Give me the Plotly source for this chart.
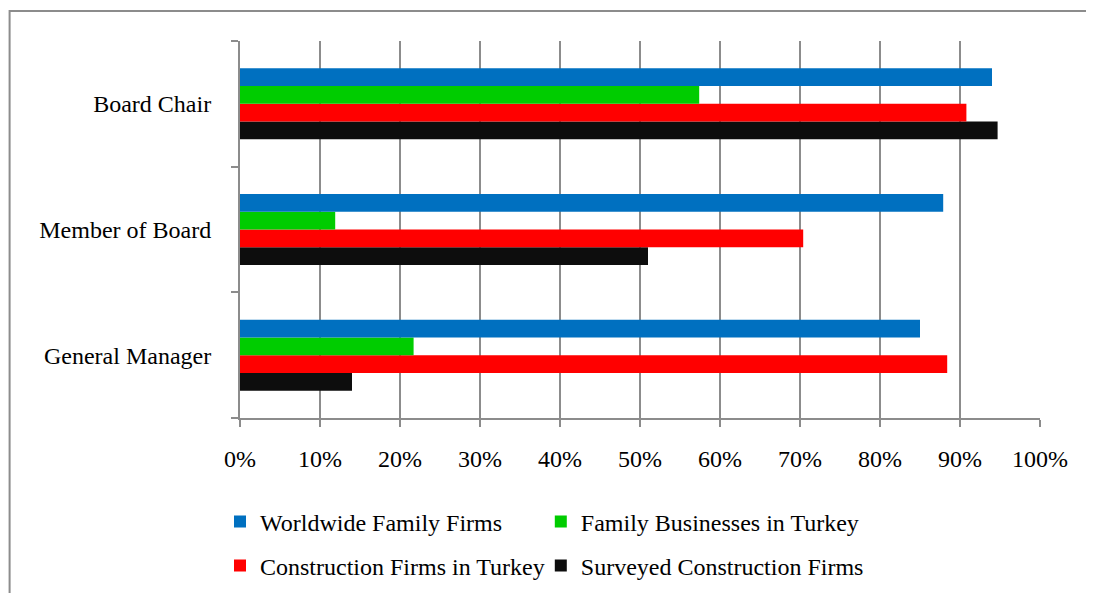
import plotly.graph_objects as go

roles = ['General Manager', 'Member of Board', 'Board Chair']

series_names = ['Worldwide Family Firms', 'Family Businesses in Turkey',
                'Construction Firms in Turkey', 'Surveyed Construction Firms']
worldwide = [0.85, 0.879, 0.94]
family_tr = [0.217, 0.119, 0.574]
construction_tr = [0.884, 0.704, 0.908]
surveyed = [0.14, 0.51, 0.947]

colors = ['#0070C0', '#00CC00', '#FF0000', '#0D0D0D']
values = [worldwide, family_tr, construction_tr, surveyed]
# one legend per entry so the 2x2 layout can be placed freely
legend_ids = ['legend', 'legend2', 'legend3', 'legend4']
legend_pos = [(-0.025, 0.1229), (0.376, 0.1229), (-0.025, 0.0478), (0.376, 0.0478)]

font_family = 'Liberation Serif'
grid_col = '#8C8C8C'
fsize = 24

fig = go.Figure()
# added in reverse so the blue bar sits on top inside each group
for name, vals, col, lg in reversed(list(zip(series_names, values, colors, legend_ids))):
    fig.add_trace(go.Bar(y=roles, x=vals, name=name, orientation='h', legend=lg,
                         marker=dict(color=col, line=dict(width=0))))

legends = {}
for lg, (lx, ly) in zip(legend_ids, legend_pos):
    legends[lg] = dict(orientation='h', x=lx, y=ly, xanchor='left', yanchor='middle',
                       xref='paper', yref='container',
                       font=dict(family=font_family, size=fsize),
                       itemwidth=30, bgcolor='rgba(0,0,0,0)')

fig.update_layout(
    barmode='group',
    bargap=0.435,
    bargroupgap=0,
    width=1087, height=586,
    margin=dict(l=232, r=55, t=33, b=176),
    paper_bgcolor='white',
    plot_bgcolor='white',
    font=dict(family=font_family, size=fsize, color='black'),
    showlegend=True,
    shapes=[dict(type='rect', xref='paper', yref='paper',
                 x0=-0.288, x1=1.2, y0=-0.6, y1=1.0796,
                 line=dict(color=grid_col, width=2), fillcolor='rgba(0,0,0,0)',
                 layer='below')],
    **legends,
)

fig.update_xaxes(range=[0, 1], tickformat='.0%', dtick=0.1, tick0=0,
                 showgrid=True, gridcolor=grid_col, gridwidth=2,
                 showline=True, linecolor=grid_col, linewidth=2,
                 ticks='outside', ticklen=7, tickcolor=grid_col, tickwidth=2,
                 ticklabelstandoff=11, zeroline=False,
                 tickfont=dict(family=font_family, size=fsize))
fig.update_yaxes(categoryorder='array', categoryarray=roles,
                 showline=True, linecolor=grid_col, linewidth=2,
                 ticks='outside', tickson='boundaries', ticklen=7,
                 tickcolor=grid_col, tickwidth=2, showgrid=False,
                 ticklabelstandoff=22,
                 tickfont=dict(family=font_family, size=fsize))

fig.write_html("out.html")
